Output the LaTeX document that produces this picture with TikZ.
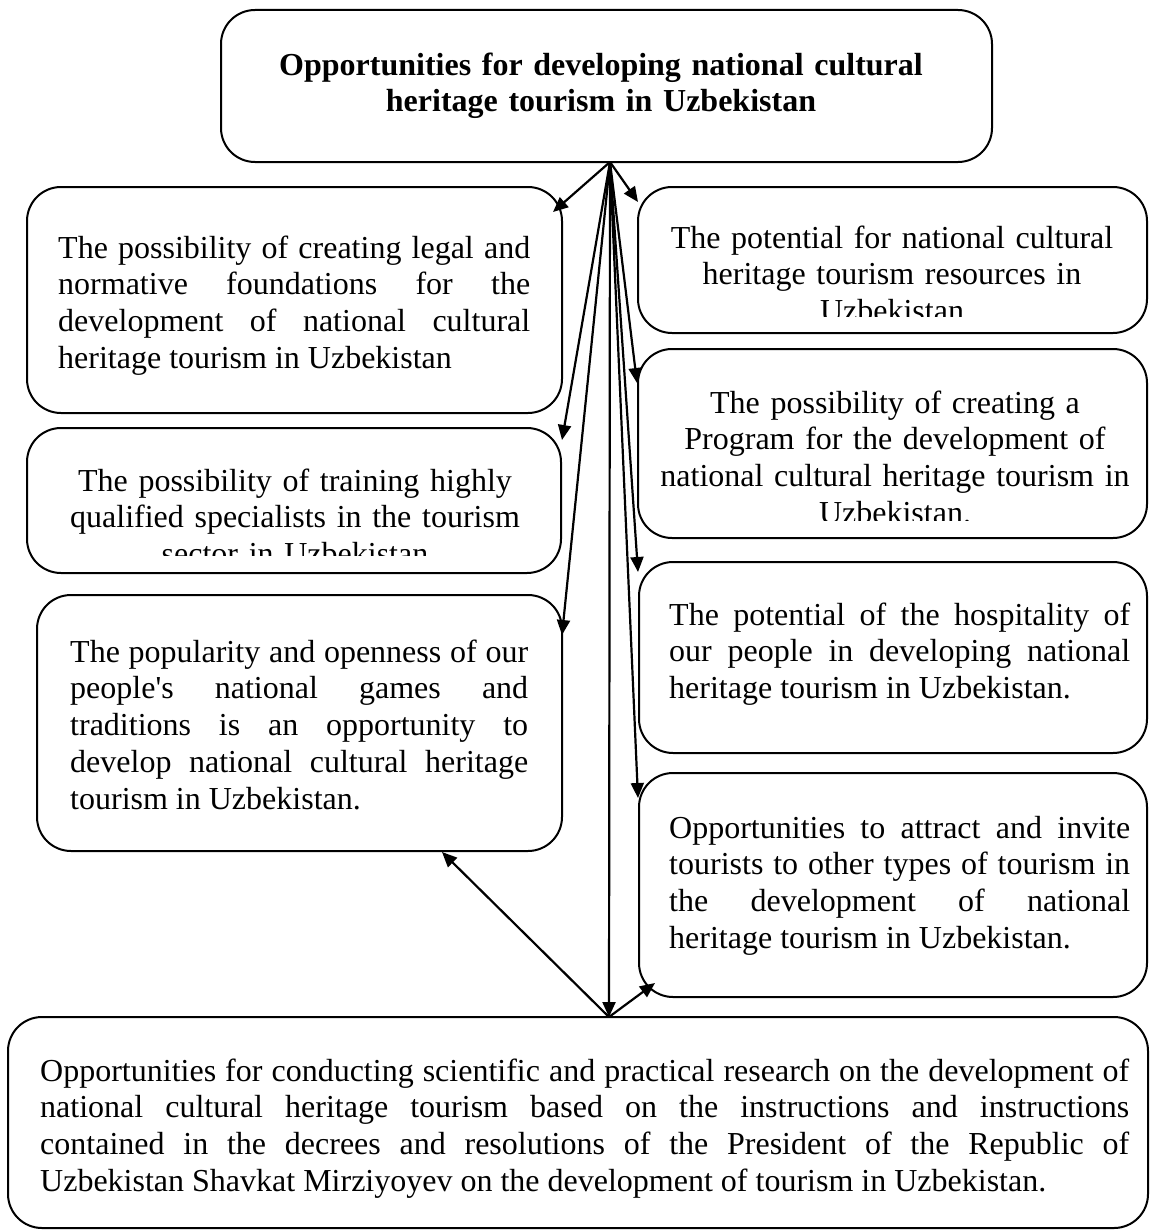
\documentclass[tikz,border=0pt]{standalone}
\usepackage{fontspec}
\setmainfont{Liberation Serif}
\usetikzlibrary{arrows.meta}
\hyphenpenalty=10000
\exhyphenpenalty=10000
\begin{document}
\begin{tikzpicture}[x=1pt,y=-1pt,
  box/.style={draw, line width=2pt, rounded corners=34pt, inner sep=0pt},
  txt/.style={inner sep=0pt, font=\fontsize{32}{36.8}\selectfont, text width=#1},
  jtxt/.style={txt=#1, align=justify, anchor=base west},
  ctxt/.style={txt=#1, align=center, anchor=base},
  arr/.style={line width=2.2pt, -{Triangle[length=15pt,width=13pt]}}]
\useasboundingbox (0,0) rectangle (1150,1231);

% frames
\node[box, minimum width=771pt, minimum height=152pt] (top) at (606.5,86) {};
\node[box, minimum width=535pt, minimum height=226pt] (l1) at (294.5,300) {};
\node[box, minimum width=534pt, minimum height=145pt] (l2) at (294,500.5) {};
\node[box, minimum width=525pt, minimum height=256pt] (l3) at (299.5,723) {};
\node[box, minimum width=509pt, minimum height=146pt] (r1) at (892.5,260) {};
\node[box, minimum width=509pt, minimum height=189pt] (r2) at (892.5,443.5) {};
\node[box, minimum width=508pt, minimum height=191pt] (r3) at (893,657.5) {};
\node[box, minimum width=508pt, minimum height=224pt] (r4) at (893,885) {};
\node[box, minimum width=1140pt, minimum height=211pt] (bot) at (578,1122.5) {};

% texts
\node[ctxt=700pt, font=\fontsize{32}{36.8}\selectfont\bfseries] (toptext) at (601,75)
  {Opportunities for developing national cultural\\heritage tourism in Uzbekistan};
\node[jtxt=472pt] (l1text) at (58,258)
  {The possibility of creating legal and\linebreak normative foundations for the\linebreak development of national cultural\linebreak heritage tourism in Uzbekistan};
\begin{scope}
  \clip (27,428) rectangle (561,555);
  \node[ctxt=520pt] (l2text) at (295,491)
    {The possibility of training highly\\qualified specialists in the tourism\\sector in Uzbekistan};
\end{scope}
\node[jtxt=458pt] (l3text) at (70,662)
  {The popularity and openness of our\linebreak people\textquotesingle s national games and\linebreak traditions is an opportunity to\linebreak develop national cultural heritage\linebreak tourism in Uzbekistan.};
\begin{scope}
  \clip (638,187) rectangle (1147,316);
  \node[ctxt=500pt] (r1text) at (892,248)
    {The potential for national cultural\\heritage tourism resources in\\Uzbekistan};
\end{scope}
\begin{scope}
  \clip (638,349) rectangle (1147,520);
  \node[ctxt=500pt] (r2text) at (895,413)
    {The possibility of creating a\\Program for the development of\\national cultural heritage tourism in\\Uzbekistan.};
\end{scope}
\node[jtxt=461pt] (r3text) at (669,625)
  {The potential of the hospitality of\linebreak our people in developing national\linebreak heritage tourism in Uzbekistan.};
\node[jtxt=461pt] (r4text) at (669,838)
  {Opportunities to attract and invite\linebreak tourists to other types of tourism in\linebreak the development of national\linebreak heritage tourism in Uzbekistan.};
\node[jtxt=1089pt] (bottext) at (40,1081)
  {Opportunities for conducting scientific and practical research on the development of\linebreak national cultural heritage tourism based on the instructions and instructions\linebreak contained in the decrees and resolutions of the President of the Republic of\linebreak Uzbekistan Shavkat Mirziyoyev on the development of tourism in Uzbekistan.};

% hubs and arrow ends
\coordinate (tophub) at (610,162);
\coordinate (bothub) at (609,1017);
\coordinate (inl1) at (553,212);
\coordinate (inr1) at (638,202);
\coordinate (inl2) at (562,440);
\coordinate (inr2) at (637,383);
\coordinate (inr3) at (638,572);
\coordinate (inl3) at (562,635);
\coordinate (inr4) at (638,798);
\coordinate (inl3b) at (442,852);
\coordinate (inr4b) at (655,983);

% connectors
\draw[arr] (tophub) -- (inl1);
\draw[arr] (tophub) -- (inr1);
\draw[arr] (tophub) -- (inl2);
\draw[arr] (tophub) -- (inr2);
\draw[arr] (tophub) -- (inr3);
\draw[arr] (tophub) -- (inl3);
\draw[arr] (tophub) -- (inr4);
\draw[arr] (tophub) -- (bothub);
\draw[arr] (bothub) -- (inl3b);
\draw[arr] (bothub) -- (inr4b);
\end{tikzpicture}
\end{document}
